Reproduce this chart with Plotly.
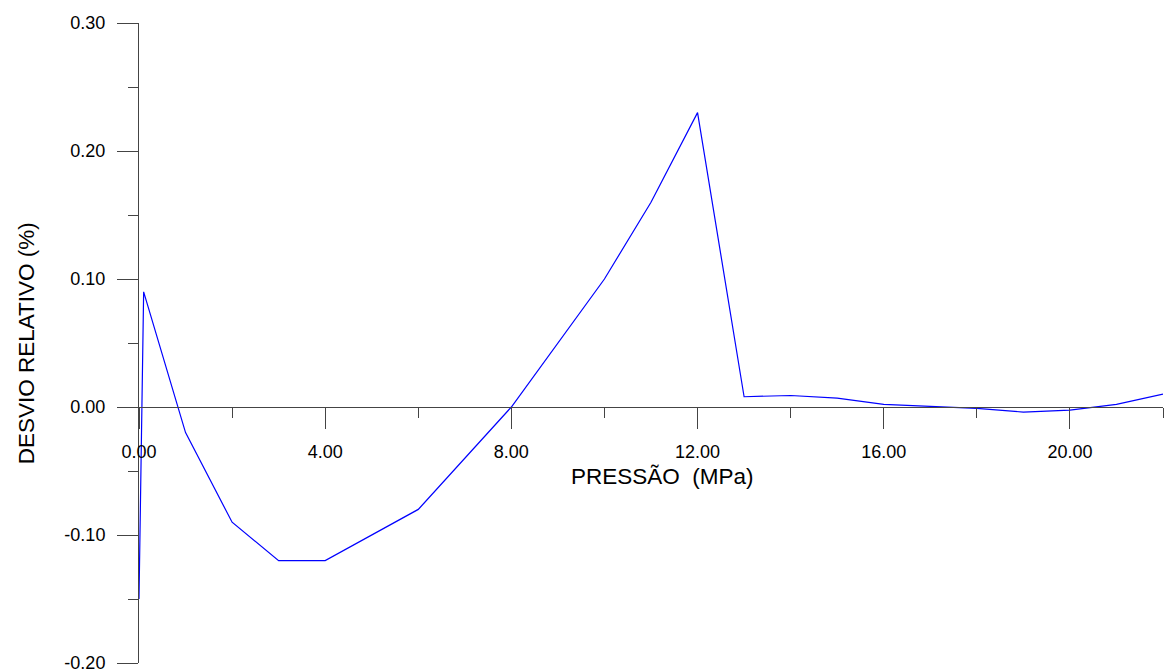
import plotly.graph_objects as go

pressao = [0.0, 0.1, 1, 2, 3, 4, 6, 8, 10, 11, 12, 13, 14, 15, 16, 17, 18, 19, 20, 21, 22]
desvio = [-0.15, 0.09, -0.02, -0.09, -0.12, -0.12, -0.08, 0.00, 0.10, 0.16, 0.23,
          0.008, 0.009, 0.007, 0.002, 0.0005, -0.001, -0.004, -0.0025, 0.002, 0.01]

x_tickvals = [0, 4, 8, 12, 16, 20]
x_ticktext = ["0.00", "4.00", "8.00", "12.00", "16.00", "20.00"]
y_tickvals = [-0.2, -0.1, 0.0, 0.1, 0.2, 0.3]
y_ticktext = ["-0.20", "-0.10", "0.00", "0.10", "0.20", "0.30"]

x_title = "PRESSÃO  (MPa)"
y_title = "DESVIO RELATIVO (%)"

FONT = "Liberation Sans, Arial, sans-serif"
AX = "#444444"

fig = go.Figure()
fig.add_trace(go.Scatter(x=pressao, y=desvio, mode="lines",
                         line=dict(color="#0000FF", width=1.2), showlegend=False))

fig.update_layout(
    width=1174, height=672,
    margin=dict(l=139, r=11, t=23, b=9, autoexpand=False),
    paper_bgcolor="white", plot_bgcolor="white",
    font=dict(family=FONT, size=18, color="black"),
    xaxis=dict(range=[0, 22], tickmode="array", tickvals=x_tickvals, ticktext=x_ticktext,
               showgrid=False, zeroline=False, showline=True, linecolor=AX, linewidth=1,
               ticks="outside", ticklen=21, tickcolor=AX, tickwidth=1,
               ticklabelstandoff=7, ticklabeloverflow="allow", automargin=False,
               minor=dict(dtick=2, tick0=0, ticks="outside", ticklen=10, tickcolor=AX),
               anchor="free", position=0.4),
    yaxis=dict(range=[-0.2, 0.3], tickmode="array", tickvals=y_tickvals, ticktext=y_ticktext,
               showgrid=False, zeroline=False, showline=True, linecolor=AX, linewidth=1,
               ticks="outside", ticklen=21, tickcolor=AX, tickwidth=1,
               ticklabelstandoff=8, ticklabeloverflow="allow", automargin=False,
               minor=dict(dtick=0.05, tick0=0, ticks="outside", ticklen=10, tickcolor=AX)),
    annotations=[
        dict(text=x_title, xref="paper", yref="paper", x=0.511, y=0.292,
             showarrow=False, font=dict(size=22.5, family=FONT), xanchor="center", yanchor="middle"),
        dict(text=y_title, xref="paper", yref="paper", x=-0.110, y=0.5,
             showarrow=False, textangle=-90, font=dict(size=22.5, family=FONT),
             xanchor="center", yanchor="middle"),
    ],
)

fig.write_html("out.html")
